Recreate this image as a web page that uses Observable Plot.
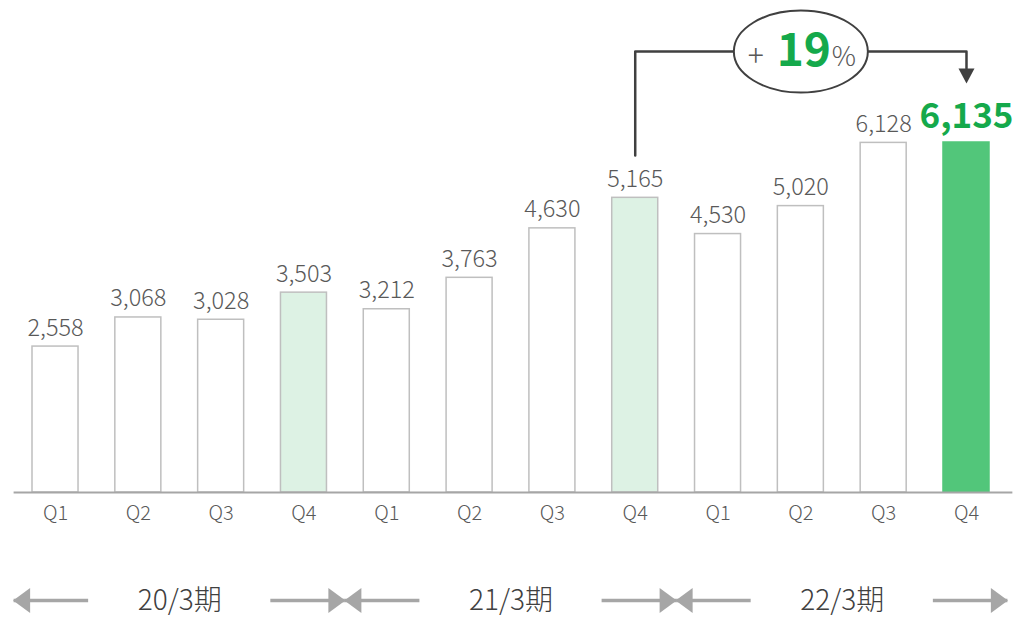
<!DOCTYPE html>
<html><head><meta charset="utf-8">
<script src="https://cdn.jsdelivr.net/npm/d3@7"></script>
<script src="https://cdn.jsdelivr.net/npm/@observablehq/plot@0.6"></script>
<style>html,body{margin:0;padding:0;background:#fff;overflow:hidden}</style>
</head><body><div id="chart"></div>
<script>
const quarters = ["Q1","Q2","Q3","Q4","Q1","Q2","Q3","Q4","Q1","Q2","Q3","Q4"];
const periods = ["20/3期","21/3期","22/3期"];
const values = [2558,3068,3028,3503,3212,3763,4630,5165,4530,5020,6128,6135];

const data = values.map((v, i) => ({i, q: quarters[i], v}));
const last = values.length - 1;
const prevYear = last - 4;
const growth = Math.round((values[last] / values[prevYear] - 1) * 100);

const font = "'Noto Sans CJK JP', 'Noto Sans', sans-serif";
const grey = "#595959";
const dark = "#404040";
const green = "#15a94b";
const arrowGrey = "#a6a6a6";

const fillOf = d => d.i === last ? "#52c67a" : (d.q === "Q4" ? "#ddf2e4" : "#ffffff");
const strokeOf = d => d.i === last ? "#52c67a" : "#bfbfbf";

// period groups (index ranges)
const groups = periods.map((p, k) => ({p, s: k * 4 - 0.5, e: k * 4 + 3.5, c: k * 4 + 1.5}));
const shaft = 0.9;

// annotation layout (data units)
const bracketTop = 7730, bracketStart = 5907, bracketEnd = 7432, arrowTip = 7169;
const bracket = [
  {x: prevYear, y: bracketStart}, {x: prevYear, y: bracketTop},
  {x: last, y: bracketTop}, {x: last, y: bracketEnd}
];
const mid = (prevYear + last) / 2;

const headRight = {draw(c){ c.moveTo(0,0); c.lineTo(-17,-12.5); c.lineTo(-17,12.5); c.closePath(); }};
const headLeft = {draw(c){ c.moveTo(0,0); c.lineTo(17,-12.5); c.lineTo(17,12.5); c.closePath(); }};
const headDown = {draw(c){ c.moveTo(0,0); c.lineTo(-8,-15); c.lineTo(8,-15); c.closePath(); }};
const ellipse = {draw(c){
  const rx = 67, ry = 41, k = 0.5523;
  c.moveTo(rx, 0);
  c.bezierCurveTo(rx, ry*k, rx*k, ry, 0, ry);
  c.bezierCurveTo(-rx*k, ry, -rx, ry*k, -rx, 0);
  c.bezierCurveTo(-rx, -ry*k, -rx*k, -ry, 0, -ry);
  c.bezierCurveTo(rx*k, -ry, rx, -ry*k, rx, 0);
  c.closePath();
}};

const fmt = d3.format(",");

const chart = Plot.plot({
  width: 1019, height: 617,
  marginLeft: 13.6, marginRight: 11.6, marginTop: 35.6, marginBottom: 125,
  x: {type: "linear", domain: [-0.5, 11.5], axis: null},
  y: {domain: [0, 8000], axis: null},
  style: {fontFamily: font, background: "#fff", overflow: "visible"},
  marks: [
    Plot.rectY(data, {x1: d => d.i - 0.5, x2: d => d.i + 0.5, y: "v", insetLeft: 18.4, insetRight: 18.4,
      fill: fillOf, stroke: strokeOf, strokeWidth: 1.5}),
    Plot.ruleY([0], {x1: -0.5, x2: 11.56, stroke: arrowGrey, strokeWidth: 2}),
    Plot.text(data.filter(d => d.i !== last), {x: "i", y: "v", text: d => fmt(d.v), dy: -11,
      lineAnchor: "bottom", fontSize: 23.5, fontWeight: 300, fill: grey}),
    Plot.text(data.filter(d => d.i === last), {x: "i", y: "v", text: d => fmt(d.v), dy: -14,
      lineAnchor: "bottom", fontSize: 35, fontWeight: "bold", fill: green}),
    Plot.text(data, {x: "i", text: "q", frameAnchor: "bottom", dy: 21, lineAnchor: "middle", fontSize: 20, fontWeight: 300, fill: grey}),
    // period labels and arrows
    Plot.text(groups, {x: "c", text: "p", frameAnchor: "bottom", dy: 109, lineAnchor: "middle", fontSize: 28, fontWeight: 300, fill: dark}),
    Plot.ruleY(groups, {x1: "s", x2: d => d.s + shaft, y: () => 0, dy: 108, stroke: arrowGrey, strokeWidth: 3.5}),
    Plot.ruleY(groups, {x1: d => d.e - shaft, x2: "e", y: () => 0, dy: 108, stroke: arrowGrey, strokeWidth: 3.5}),
    Plot.dot(groups, {x: "s", y: () => 0, dy: 108, dx: -1, symbol: headLeft, fill: arrowGrey, stroke: "none"}),
    Plot.dot(groups, {x: "e", y: () => 0, dy: 108, dx: 0, symbol: headRight, fill: arrowGrey, stroke: "none"}),
    // growth annotation
    Plot.line(bracket, {x: "x", y: "y", stroke: dark, strokeWidth: 2.5}),
    Plot.dot([{x: last, y: arrowTip}], {x: "x", y: "y", symbol: headDown, fill: dark, stroke: "none"}),
    Plot.dot([{x: mid, y: bracketTop}], {x: "x", y: "y", symbol: ellipse, fill: "#fff", stroke: dark, strokeWidth: 2}),
    Plot.text([{x: mid, y: bracketTop}], {x: "x", y: "y", text: () => "+", dx: -45, dy: 14, lineAnchor: "bottom", fontSize: 30, fontWeight: 300, fill: grey}),
    Plot.text([{x: mid, y: bracketTop}], {x: "x", y: "y", text: () => String(growth), dx: 3, dy: 14, lineAnchor: "bottom", fontSize: 46, fontWeight: "bold", fill: green}),
    Plot.text([{x: mid, y: bracketTop}], {x: "x", y: "y", text: () => "%", dx: 43, dy: 14, lineAnchor: "bottom", fontSize: 27, fontWeight: 300, fill: grey})
  ]
});
document.getElementById("chart").appendChild(chart);
</script>
</body></html>
